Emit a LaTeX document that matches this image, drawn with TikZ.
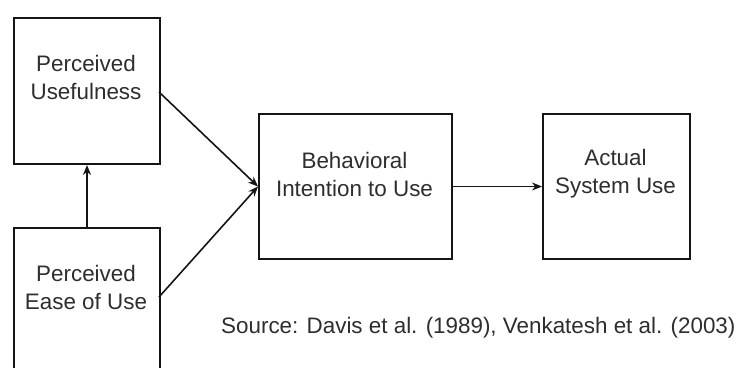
\documentclass[tikz,border=0pt]{standalone}
\usepackage{fontspec}
\setmainfont{Liberation Sans}
\usetikzlibrary{arrows.meta}
\definecolor{txtc}{HTML}{2E2E2E}
\definecolor{linec}{HTML}{151515}
\begin{document}
\begin{tikzpicture}[x=1pt,y=-1pt,
  box/.style={draw=linec,line width=2pt,rectangle,inner sep=0pt,anchor=north west},
  txt/.style={text=txtc,align=center,font=\fontsize{22.4}{28}\selectfont,inner sep=0pt},
  conn/.style={draw=linec,line width=1.6pt,-{Stealth[length=10pt,width=8pt]}}]
\clip (0,0) rectangle (742,367);
\fill[white] (0,0) rectangle (742,367);
\node[box,minimum width=146pt,minimum height=146pt] (pu) at (13,17) {};
\node[box,minimum width=146pt,minimum height=160pt] (peou) at (13,227) {};
\node[box,minimum width=193pt,minimum height=145pt] (bi) at (258,113) {};
\node[box,minimum width=147pt,minimum height=145pt] (asu) at (542,113) {};
\node[txt] (tpu) at (86,77) {Perceived\\Usefulness};
\node[txt] (tpeou) at (86,287) {Perceived\\Ease of Use};
\node[txt] (tbi) at (354.5,174) {Behavioral\\Intention to Use};
\node[txt] (tasu) at (615.5,174) {Actual\\System Use};
\node[txt,anchor=base west] (src) at (221,333) {Source: Davis et al. (1989), Venkatesh et al. (2003)};
\coordinate (peoue) at (159,297);
\coordinate (pue) at (159,92);
\draw[conn] (pue) -- (bi.west);
\draw[conn] (peoue) -- (bi.west);
\draw[conn] (peou.north) -- (pu.south);
\draw[conn] (bi.east) -- (asu.west);
\end{tikzpicture}
\end{document}
